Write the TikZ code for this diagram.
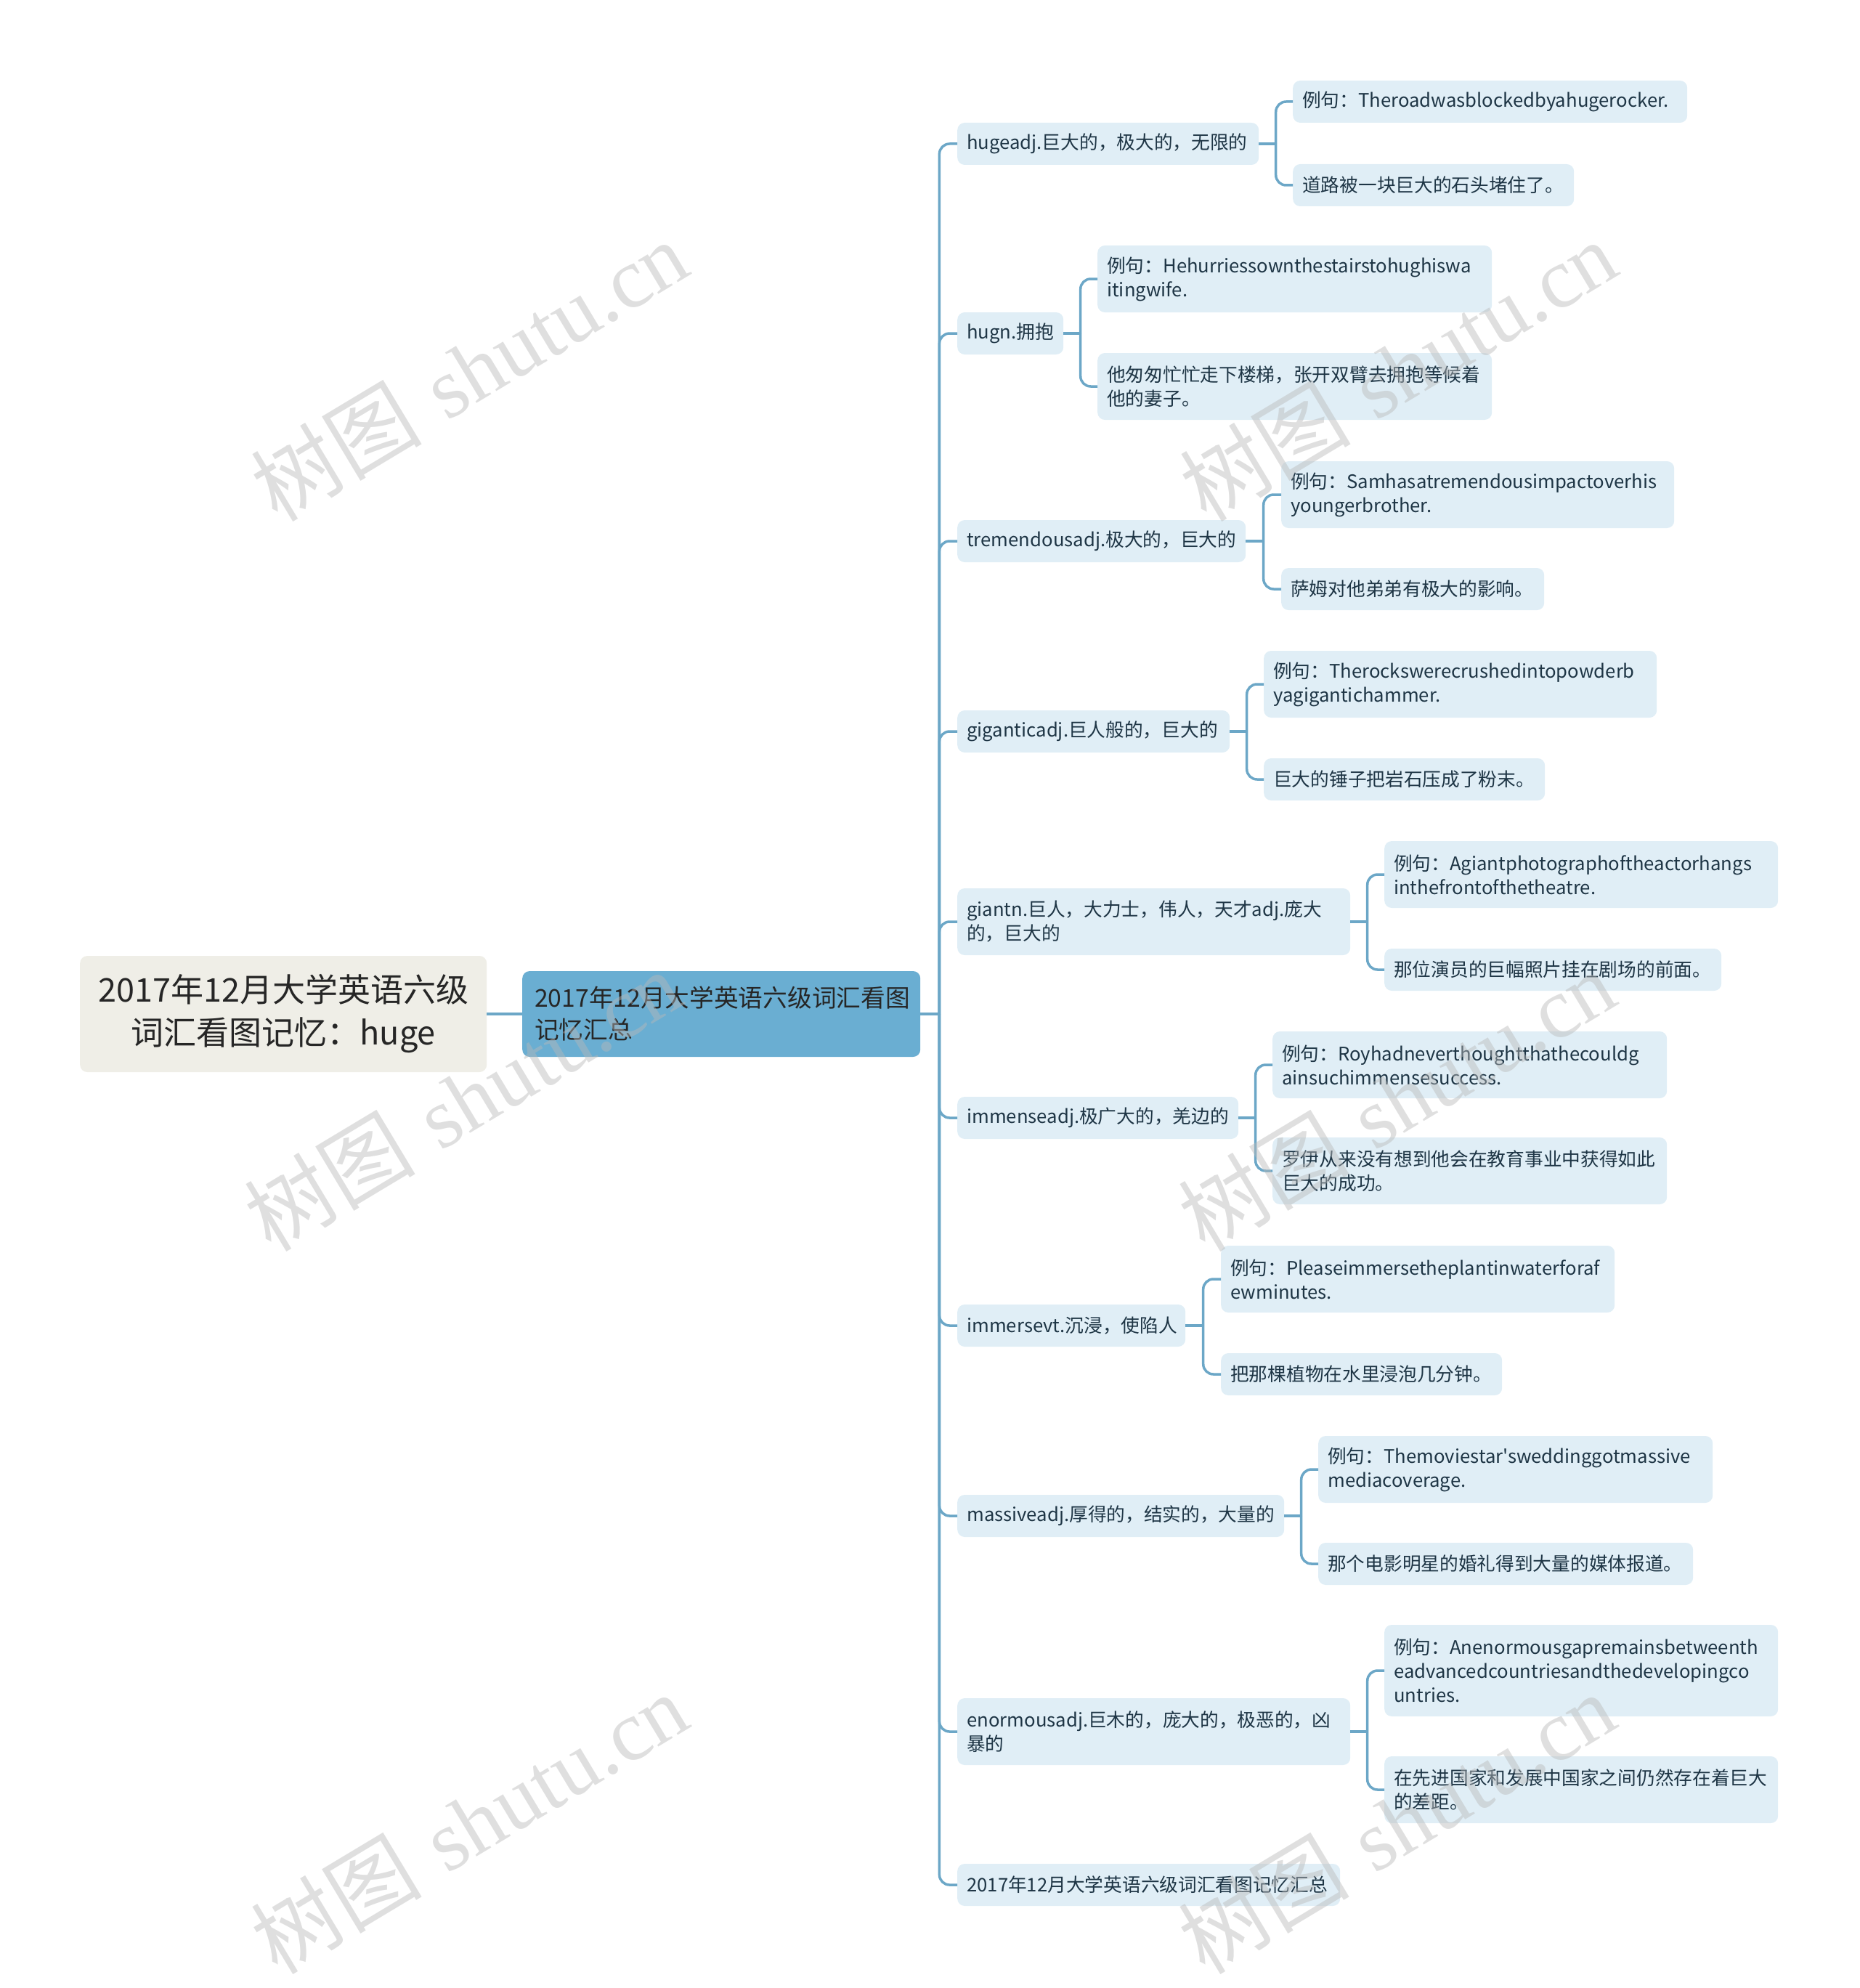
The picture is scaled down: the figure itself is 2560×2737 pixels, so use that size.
\documentclass[tikz,border=0pt]{standalone}
\usepackage{fontspec}
\newfontfamily\cjk{Noto Sans CJK SC}
\newfontfamily\wmserif{Liberation Serif}
\usetikzlibrary{calc}
\definecolor{lb}{HTML}{E0EEF6}
\definecolor{linec}{HTML}{6CA7C7}
\definecolor{txt}{HTML}{1E3545}
\definecolor{rootfill}{HTML}{EFEEE7}
\definecolor{mainfill}{HTML}{6AAED2}
\hyphenpenalty=10000
\exhyphenpenalty=10000
\begin{document}
\begin{tikzpicture}[x=1pt,y=-1pt,
  leaf/.style={fill=lb, rounded corners=10pt, anchor=west, inner xsep=13pt, inner ysep=0pt,
    align=left, text=txt, font=\cjk\fontsize{25.7}{33}\selectfont},
  one/.style={minimum height=58pt},
  two/.style={minimum height=92pt},
  three/.style={minimum height=126pt},
  rootbox/.style={fill=rootfill, rounded corners=10pt, anchor=west, inner xsep=14pt, inner ysep=0pt,
    text width=532pt, minimum height=160pt, align=center, text=black!85,
    font=\cjk\fontsize{45}{59}\selectfont},
  mainbox/.style={fill=mainfill, rounded corners=10pt, anchor=west, inner xsep=17pt, inner ysep=0pt,
    text width=514pt, minimum height=118pt, align=left, text=black!85,
    font=\cjk\fontsize{33.7}{44}\selectfont},
  link/.style={draw=linec, line width=3.5pt, rounded corners=14pt},
  wm/.style={rotate=31, text=gray!55, opacity=0.45, font=\fontsize{118}{128}\selectfont}
]
\useasboundingbox (0,0) rectangle (2560,2737);

\node[rootbox] (root) at (110,1396) {2017年12月大学英语六级\\词汇看图记忆：huge};
\node[mainbox] (main) at (719,1396) {2017年12月大学英语六级词汇看图\\记忆汇总};

% level 2
\node[leaf,one,text width=389pt] (c1) at (1318,198) {hugeadj.巨大的，极大的，无限的};
\node[leaf,one,text width=120pt] (c2) at (1318,459) {hugn.拥抱};
\node[leaf,one,text width=371pt] (c3) at (1318,745) {tremendousadj.极大的，巨大的};
\node[leaf,one,text width=349pt] (c4) at (1318,1007) {giganticadj.巨人般的，巨大的};
\node[leaf,two,text width=515pt] (c5) at (1318,1269) {giantn.巨人，大力士，伟人，天才adj.庞大\\的，巨大的};
\node[leaf,one,text width=361pt] (c6) at (1318,1539) {immenseadj.极广大的，羌边的};
\node[leaf,one,text width=288pt] (c7) at (1318,1825) {immersevt.沉浸，使陷人};
\node[leaf,one,text width=424pt] (c8) at (1318,2087) {massiveadj.厚得的，结实的，大量的};
\node[leaf,two,text width=515pt] (c9) at (1318,2384) {enormousadj.巨木的，庞大的，极恶的，凶\\暴的};
\node[leaf,one,text width=501pt] (c10) at (1318,2595) {2017年12月大学英语六级词汇看图记忆汇总};

% level 3
\node[leaf,one,text width=517pt] (a1) at (1780,140) {例句：Theroadwasblockedbyahugerocker.};
\node[leaf,one,text width=361pt] (b1) at (1780,255) {道路被一块巨大的石头堵住了。};
\node[leaf,two,text width=517pt] (a2) at (1511,384) {例句：Hehurriessownthestairstohughiswa\\itingwife.};
\node[leaf,two,text width=517pt] (b2) at (1511,532) {他匆匆忙忙走下楼梯，张开双臂去拥抱等候着\\他的妻子。};
\node[leaf,two,text width=515pt] (a3) at (1764,681) {例句：Samhasatremendousimpactoverhis\\youngerbrother.};
\node[leaf,one,text width=336pt] (b3) at (1764,811) {萨姆对他弟弟有极大的影响。};
\node[leaf,two,text width=515pt] (a4) at (1740,942) {例句：Therockswerecrushedintopowderb\\yagigantichammer.};
\node[leaf,one,text width=361pt] (b4) at (1740,1073) {巨大的锤子把岩石压成了粉末。};
\node[leaf,two,text width=516pt] (a5) at (1906,1204) {例句：Agiantphotographoftheactorhangs\\inthefrontofthetheatre.};
\node[leaf,one,text width=438pt] (b5) at (1906,1335) {那位演员的巨幅照片挂在剧场的前面。};
\node[leaf,two,text width=517pt] (a6) at (1752,1466) {例句：Royhadneverthoughtthathecouldg\\ainsuchimmensesuccess.};
\node[leaf,two,text width=517pt] (b6) at (1752,1612) {罗伊从来没有想到他会在教育事业中获得如此\\巨大的成功。};
\node[leaf,two,text width=516pt] (a7) at (1681,1761) {例句：Pleaseimmersetheplantinwaterforaf\\ewminutes.};
\node[leaf,one,text width=361pt] (b7) at (1681,1892) {把那棵植物在水里浸泡几分钟。};
\node[leaf,two,text width=517pt] (a8) at (1815,2023) {例句：Themoviestar'sweddinggotmassive\\mediacoverage.};
\node[leaf,one,text width=490pt] (b8) at (1815,2153) {那个电影明星的婚礼得到大量的媒体报道。};
\node[leaf,three,text width=516pt] (a9) at (1906,2300) {例句：Anenormousgapremainsbetweenth\\eadvancedcountriesandthedevelopingco\\untries.};
\node[leaf,two,text width=516pt] (b9) at (1906,2464) {在先进国家和发展中国家之间仍然存在着巨大\\的差距。};

% connectors
\draw[link] (root.east) -- (main.west);
\coordinate (j0) at ($(main.east)+(26,0)$);
\draw[link] (main.east) -- (j0);
\foreach \c in {c1,c2,c3,c4,c5,c6,c7,c8,c9,c10} \draw[link] (j0) |- (\c.west);
\foreach \p in {1,...,9} {
  \coordinate (k\p) at ($(c\p.east)!0.5!(a\p.west |- c\p.east)$);
  \draw[link] (c\p.east) -- (k\p);
  \draw[link] (k\p) |- (a\p.west);
  \draw[link] (k\p) |- (b\p.west);
}

% watermarks
\node[wm] (w1) at (646,510) {{\cjk 树图} {\wmserif shutu.cn}};
\node[wm] (w2) at (1925,510) {{\cjk 树图} {\wmserif shutu.cn}};
\node[wm] (w3) at (637,1515) {{\cjk 树图} {\wmserif shutu.cn}};
\node[wm] (w4) at (1923,1515) {{\cjk 树图} {\wmserif shutu.cn}};
\node[wm] (w5) at (646,2510) {{\cjk 树图} {\wmserif shutu.cn}};
\node[wm] (w6) at (1923,2510) {{\cjk 树图} {\wmserif shutu.cn}};
\end{tikzpicture}
\end{document}
